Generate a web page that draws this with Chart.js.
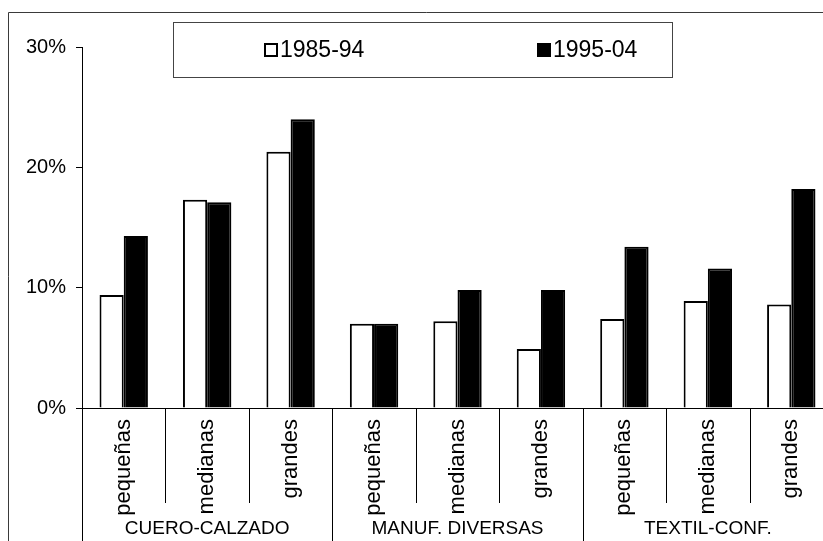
<!DOCTYPE html>
<html>
<head>
<meta charset="utf-8">
<script src="https://cdn.jsdelivr.net/npm/chart.js@4/dist/chart.umd.min.js"></script>
<style>
  html, body { margin: 0; padding: 0; background: #fff; overflow: hidden; }
  #wrap { position: absolute; left: 0; top: 0; }
</style>
</head>
<body>
<div id="wrap"><canvas id="barChart" width="845" height="541"></canvas></div>
<script>
// categories
let groups = ["CUERO-CALZADO", "MANUF. DIVERSAS", "TEXTIL-CONF."];
let sizes = ["pequeñas", "medianas", "grandes"];
let seriesNames = ["1985-94", "1995-04"];
let yTicks = [0, 10, 20, 30];

// values in % (3 sizes per group)
let period1 = [9.4, 17.3, 21.3, 7.0, 7.2, 4.9, 7.4, 8.9, 8.6];
let period2 = [14.3, 17.1, 24.0, 7.0, 9.8, 9.8, 13.4, 11.6, 18.2];

let labels = [];
groups.forEach(g => { sizes.forEach(s => labels.push(s)); });

const FONT = "'Liberation Sans', Arial, sans-serif";

// frame, legend box, separators and group names
const extras = {
  id: "extras",
  afterDraw(chart) {
    let ctx = chart.ctx;
    let x = chart.scales.x;
    let n = labels.length;
    ctx.save();

    // outer frame (only top and left are inside the picture)
    ctx.strokeStyle = "#3a3a3a";
    ctx.lineWidth = 1;
    ctx.beginPath();
    ctx.moveTo(8.5, chart.height);
    ctx.lineTo(8.5, 12.5);
    ctx.lineTo(chart.width, 12.5);
    ctx.stroke();

    // category separators under the axis
    ctx.strokeStyle = "#000";
    for (let i = 0; i <= n; i++) {
      let px;
      if (i == 0) px = x.left;
      else if (i == n) px = x.right;
      else px = (x.getPixelForValue(i - 1) + x.getPixelForValue(i)) / 2;
      px = Math.round(px) + 0.5;
      let bottom = (i % sizes.length == 0) ? chart.height : x.top + 95;
      ctx.beginPath();
      ctx.moveTo(px, x.top);
      ctx.lineTo(px, bottom);
      ctx.stroke();
    }

    // group names
    ctx.fillStyle = "#000";
    ctx.font = "19px " + FONT;
    ctx.textAlign = "center";
    ctx.textBaseline = "middle";
    groups.forEach((g, gi) => {
      let a = x.getPixelForValue(gi * sizes.length);
      let b = x.getPixelForValue(gi * sizes.length + sizes.length - 1);
      ctx.fillText(g, (a + b) / 2, 529);
    });

    // legend box
    let bx = 173, by = 22, bw = 499, bh = 55;
    ctx.strokeStyle = "#444";
    ctx.strokeRect(bx + 0.5, by + 0.5, bw, bh);
    ctx.font = "23px " + FONT;
    ctx.textAlign = "left";
    let itemX = [bx + 91, bx + 364];
    chart.data.datasets.forEach((ds, di) => {
      let sx = itemX[di], sy = 43;
      ctx.fillStyle = ds.backgroundColor;
      ctx.fillRect(sx, sy, 14, 14);
      ctx.strokeStyle = "#000";
      ctx.lineWidth = 2;
      ctx.strokeRect(sx + 1, sy + 1, 12, 12);
      ctx.fillStyle = "#000";
      ctx.fillText(ds.label, sx + 16, 51);
    });

    ctx.restore();
  }
};

let chart = new Chart(document.getElementById("barChart"), {
  type: "bar",
  data: {
    labels: labels,
    datasets: [{
      label: seriesNames[0],
      data: period1,
      backgroundColor: "#ffffff",
      borderColor: "#000000",
      borderWidth: 2,
      barPercentage: 1,
      categoryPercentage: 0.58
    }, {
      label: seriesNames[1],
      data: period2,
      backgroundColor: "#000000",
      borderColor: "#000000",
      borderWidth: 2,
      barPercentage: 1,
      categoryPercentage: 0.58
    }]
  },
  options: {
    responsive: false,
    animation: false,
    layout: { padding: { left: 0, top: 47, right: 12, bottom: 0 } },
    plugins: {
      legend: { display: false },
      tooltip: { enabled: false }
    },
    scales: {
      x: {
        grid: { display: false, drawTicks: false },
        border: { display: true, color: "#000", width: 1 },
        ticks: {
          color: "#000",
          font: { family: FONT, size: 22 },
          minRotation: 90,
          maxRotation: 90,
          autoSkip: false,
          padding: 11
        },
        afterFit: s => { s.height = 133; }
      },
      y: {
        min: 0,
        max: 30,
        afterBuildTicks: s => { s.ticks = yTicks.map(v => ({ value: v })); },
        grid: { drawOnChartArea: false, tickLength: 6, color: "#000" },
        border: { display: true, color: "#000", width: 1 },
        ticks: {
          color: "#000",
          font: { family: FONT, size: 20 },
          padding: 10,
          callback: v => v + "%"
        },
        afterFit: s => { s.width = 82; }
      }
    }
  },
  plugins: [extras]
});
</script>
</body>
</html>
